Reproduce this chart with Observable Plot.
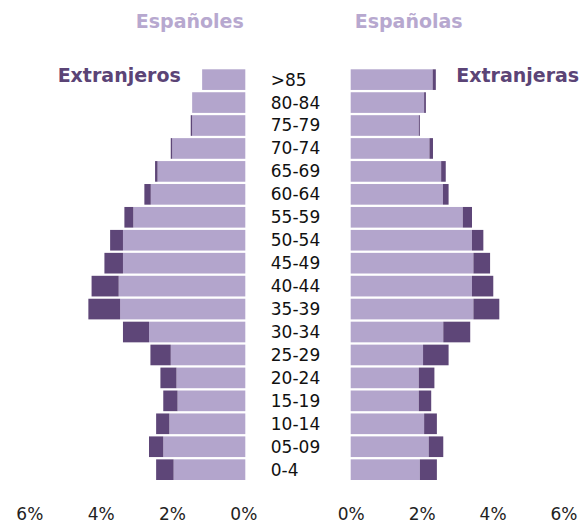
<!DOCTYPE html>
<html><head><meta charset="utf-8">
<script src="https://cdn.jsdelivr.net/npm/d3@7"></script>
<script src="https://cdn.jsdelivr.net/npm/@observablehq/plot@0.6"></script>
<style>
body{margin:0;background:#fff}
#c{position:relative;width:582px;height:523px;background:#fff}
#c svg{position:absolute;left:0;top:0}
</style></head><body><div id="c"></div>
<script>
const ages = [">85","80-84","75-79","70-74","65-69","60-64","55-59","50-54","45-49","40-44","35-39","30-34","25-29","20-24","15-19","10-14","05-09","0-4"];
// Hombres (%): españoles and extranjeros
const espanoles   = [1.21,1.49,1.49,2.05,2.46,2.65,3.14,3.43,3.43,3.55,3.51,2.70,2.09,1.93,1.90,2.13,2.30,2.01];
const extranjeros = [0.00,0.00,0.04,0.04,0.07,0.18,0.25,0.36,0.52,0.76,0.89,0.73,0.57,0.45,0.40,0.37,0.40,0.49];
// Mujeres (%): españolas and extranjeras
const espanolas   = [2.31,2.07,1.92,2.22,2.55,2.60,3.16,3.42,3.46,3.42,3.46,2.61,2.04,1.92,1.92,2.07,2.20,1.95];
const extranjeras = [0.09,0.05,0.03,0.10,0.13,0.16,0.26,0.32,0.47,0.60,0.73,0.76,0.72,0.44,0.35,0.36,0.41,0.48];
const ticks = [0,2,4,6];

const LIGHT = "#b3a5cc", DARK = "#5e4678";
const TITLE_LIGHT = "#b7a8cf", TITLE_DARK = "#5b4476";
const font = "'DejaVu Sans', sans-serif";
const rows = (esp, ext) => ages.map((a,i) => ({age:a, esp:esp[i], total:esp[i]+ext[i]}));
const L = rows(espanoles, extranjeros);
const R = rows(espanolas, extranjeras);
const common = {
  width:582, height:523, marginTop:69.3, marginBottom:43,
  style:{fontFamily:font, background:"transparent", fontSize:"17px", color:"#222", overflow:"visible"},
  y:{domain:ages, paddingInner:0.1, paddingOuter:0, round:false, axis:null}
};

const left = Plot.plot({
  ...common,
  marginLeft:31.3, marginRight:582-245.3,
  x:{domain:[0,6], reverse:true, axis:null},
  marks:[
    Plot.barX(L,{y:"age", x1:0, x2:"esp", fill:LIGHT}),
    Plot.barX(L,{y:"age", x1:"esp", x2:"total", fill:DARK}),
    Plot.text(L,{y:"age", x:0, text:"age", textAnchor:"start", dx:25, fontSize:17, fill:"#111"}),
    Plot.axisX(ticks,{anchor:"bottom", tickFormat:d=>d+"%", tickSize:0, tickPadding:27, fontSize:17, dx:-2}),
    Plot.text(["Españoles"],{text:d=>d, frameAnchor:"top-right", dx:-2, dy:-41.5, lineAnchor:"bottom", textAnchor:"end", fontSize:19, fontWeight:"bold", fill:TITLE_LIGHT}),
    Plot.text(["Extranjeros"],{text:d=>d, frameAnchor:"top-right", dx:-65, dy:12.4, lineAnchor:"bottom", textAnchor:"end", fontSize:19, fontWeight:"bold", fill:TITLE_DARK})
  ]
});

const right = Plot.plot({
  ...common,
  marginLeft:350.7, marginRight:18.5,
  x:{domain:[0,6], axis:null},
  marks:[
    Plot.barX(R,{y:"age", x1:0, x2:"esp", fill:LIGHT}),
    Plot.barX(R,{y:"age", x1:"esp", x2:"total", fill:DARK}),
    Plot.axisX(ticks,{anchor:"bottom", tickFormat:d=>d+"%", tickSize:0, tickPadding:27, fontSize:17}),
    Plot.text(["Españolas"],{text:d=>d, frameAnchor:"top-left", dx:3.5, dy:-41.5, lineAnchor:"bottom", textAnchor:"start", fontSize:19, fontWeight:"bold", fill:TITLE_LIGHT}),
    Plot.text(["Extranjeras"],{text:d=>d, frameAnchor:"top-left", dx:105, dy:12.4, lineAnchor:"bottom", textAnchor:"start", fontSize:19, fontWeight:"bold", fill:TITLE_DARK})
  ]
});

const c = document.getElementById("c");
c.appendChild(left);
c.appendChild(right);
</script>
</body></html>
